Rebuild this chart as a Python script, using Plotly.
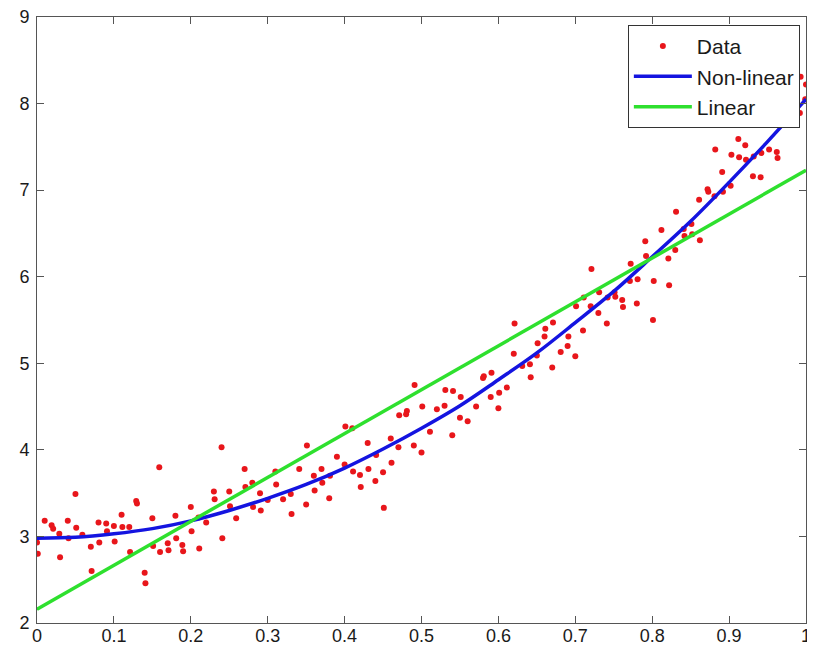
import plotly.graph_objects as go

# ---- scatter data ----
data_x = [
    0.000, 0.001, 0.010, 0.019, 0.021, 0.029, 0.030, 0.040, 0.041, 0.050,
    0.051, 0.059, 0.070, 0.071, 0.080, 0.081, 0.090, 0.091, 0.100, 0.101,
    0.110, 0.111, 0.120, 0.121, 0.129, 0.130, 0.140, 0.141, 0.150, 0.151,
    0.159, 0.160, 0.170, 0.171, 0.180, 0.181, 0.189, 0.190, 0.200, 0.201,
    0.210, 0.211, 0.220, 0.230, 0.231, 0.240, 0.241, 0.250, 0.251, 0.259,
    0.270, 0.271, 0.280, 0.281, 0.290, 0.291, 0.300, 0.310, 0.311, 0.320,
    0.330, 0.331, 0.341, 0.351, 0.350, 0.360, 0.361, 0.370, 0.371, 0.381,
    0.380, 0.390, 0.401, 0.400, 0.410, 0.411, 0.420, 0.421, 0.430, 0.431,
    0.441, 0.440, 0.450, 0.451, 0.460, 0.461, 0.471, 0.470, 0.481, 0.480,
    0.491, 0.490, 0.501, 0.500, 0.511, 0.520, 0.531, 0.530, 0.541, 0.540,
    0.551, 0.550, 0.560, 0.571, 0.581, 0.580, 0.591, 0.590, 0.601, 0.600,
    0.611, 0.621, 0.620, 0.631, 0.641, 0.642, 0.651, 0.650, 0.661, 0.660,
    0.671, 0.670, 0.681, 0.691, 0.690, 0.701, 0.700, 0.711, 0.710, 0.721,
    0.720, 0.731, 0.730, 0.742, 0.741, 0.751, 0.752, 0.761, 0.762, 0.772,
    0.771, 0.781, 0.780, 0.791, 0.792, 0.802, 0.801, 0.812, 0.821, 0.822,
    0.831, 0.830, 0.841, 0.842, 0.851, 0.852, 0.861, 0.862, 0.872, 0.873,
    0.882, 0.881, 0.891, 0.892, 0.903, 0.902, 0.912, 0.913, 0.921, 0.922,
    0.932, 0.931, 0.942, 0.941, 0.952, 0.962, 0.963, 0.972, 0.993, 0.992,
    1.000, 0.999,
]
data_y = [
    2.93, 2.80, 3.18, 3.13, 3.09, 3.03, 2.76, 3.18, 2.98, 3.49,
    3.10, 3.02, 2.88, 2.60, 3.16, 2.93, 3.15, 3.06, 3.12, 2.94,
    3.25, 3.11, 3.11, 2.82, 3.41, 3.38, 2.58, 2.46, 3.21, 2.89,
    3.80, 2.82, 2.92, 2.84, 3.24, 2.98, 2.90, 2.83, 3.34, 3.06,
    3.22, 2.86, 3.16, 3.52, 3.43, 4.03, 2.98, 3.52, 3.35, 3.21,
    3.78, 3.57, 3.62, 3.34, 3.50, 3.30, 3.42, 3.75, 3.60, 3.43,
    3.49, 3.26, 3.78, 4.05, 3.37, 3.70, 3.53, 3.78, 3.62, 3.70,
    3.44, 3.92, 4.27, 3.83, 4.25, 3.75, 3.71, 3.57, 4.08, 3.78,
    3.94, 3.64, 3.74, 3.33, 4.13, 3.85, 4.40, 4.03, 4.45, 4.41,
    4.75, 4.05, 4.50, 3.97, 4.21, 4.47, 4.69, 4.51, 4.68, 4.17,
    4.61, 4.37, 4.33, 4.50, 4.85, 4.83, 4.89, 4.61, 4.66, 4.48,
    4.72, 5.46, 5.11, 4.97, 4.99, 4.84, 5.23, 5.09, 5.40, 5.31,
    5.47, 4.95, 5.13, 5.31, 5.20, 5.66, 5.08, 5.76, 5.38, 6.09,
    5.66, 5.82, 5.58, 5.76, 5.46, 5.82, 5.77, 5.73, 5.65, 6.15,
    5.95, 5.97, 5.69, 6.41, 6.24, 5.95, 5.50, 6.54, 6.21, 5.90,
    6.75, 6.31, 6.55, 6.47, 6.61, 6.49, 6.89, 6.42, 7.01, 6.98,
    7.47, 6.93, 7.21, 6.98, 7.41, 7.05, 7.59, 7.38, 7.52, 7.35,
    7.39, 7.16, 7.43, 7.15, 7.47, 7.44, 7.37, 7.83, 8.31, 7.89,
    8.22, 8.05,
]

# ---- non-linear fit curve ----
nonlin_x = [0.00, 0.05, 0.10, 0.15, 0.20, 0.25, 0.30, 0.35, 0.40, 0.45, 0.50,
            0.55, 0.60, 0.65, 0.70, 0.75, 0.80, 0.85, 0.90, 0.95, 1.00]
nonlin_y = [2.98, 2.99, 3.03, 3.09, 3.18, 3.30, 3.44, 3.60, 3.79, 4.01, 4.25,
            4.51, 4.81, 5.12, 5.47, 5.83, 6.23, 6.64, 7.09, 7.56, 8.05]

# ---- linear fit ----
lin_x = [0.0, 1.0]
lin_y = [2.16, 7.23]

# ---- ticks ----
x_ticks = [0, 0.1, 0.2, 0.3, 0.4, 0.5, 0.6, 0.7, 0.8, 0.9, 1]
x_ticklabels = ["0", "0.1", "0.2", "0.3", "0.4", "0.5", "0.6", "0.7", "0.8", "0.9", "1"]
y_ticks = [2, 3, 4, 5, 6, 7, 8, 9]
y_ticklabels = ["2", "3", "4", "5", "6", "7", "8", "9"]

font_family = "Liberation Sans, Arial, Helvetica, sans-serif"

fig = go.Figure()
fig.add_trace(go.Scatter(
    x=data_x, y=data_y, mode="markers", name="Data",
    marker=dict(color="#e8161b", size=6, line=dict(width=0)),
))
fig.add_trace(go.Scatter(
    x=nonlin_x, y=nonlin_y, mode="lines", name="Non-linear",
    line=dict(color="#1414e0", width=3.5, shape="spline"),
))
fig.add_trace(go.Scatter(
    x=lin_x, y=lin_y, mode="lines", name="Linear",
    line=dict(color="#2ee02e", width=3.5),
))

axis_common = dict(
    showgrid=False, zeroline=False, showline=True, linecolor="#555555", linewidth=1,
    mirror="ticks", ticks="inside", ticklen=7, tickcolor="#555555", tickwidth=1,
    tickfont=dict(family=font_family, size=18, color="#1a1a1a"),
    automargin=False, ticklabeloverflow="allow",
)

# the page body keeps its 8px default margin, so margins are set 8px smaller
fig.update_layout(
    width=815, height=646,
    margin=dict(l=29, r=17, t=9, b=31),
    paper_bgcolor="white", plot_bgcolor="white",
    font=dict(family=font_family, color="#1a1a1a"),
    xaxis=dict(range=[0, 1], tickvals=x_ticks, ticktext=x_ticklabels,
               ticklabelstandoff=-4, **axis_common),
    yaxis=dict(range=[2, 9], tickvals=y_ticks, ticktext=y_ticklabels,
               ticklabelstandoff=3, **axis_common),
    showlegend=True,
    legend=dict(
        x=0.992, y=0.987, xanchor="right", yanchor="top",
        bgcolor="white", bordercolor="#333333", borderwidth=1,
        font=dict(family=font_family, size=21, color="#1a1a1a"),
        itemwidth=58, tracegroupgap=0,
    ),
)

fig.write_html("out.html")
